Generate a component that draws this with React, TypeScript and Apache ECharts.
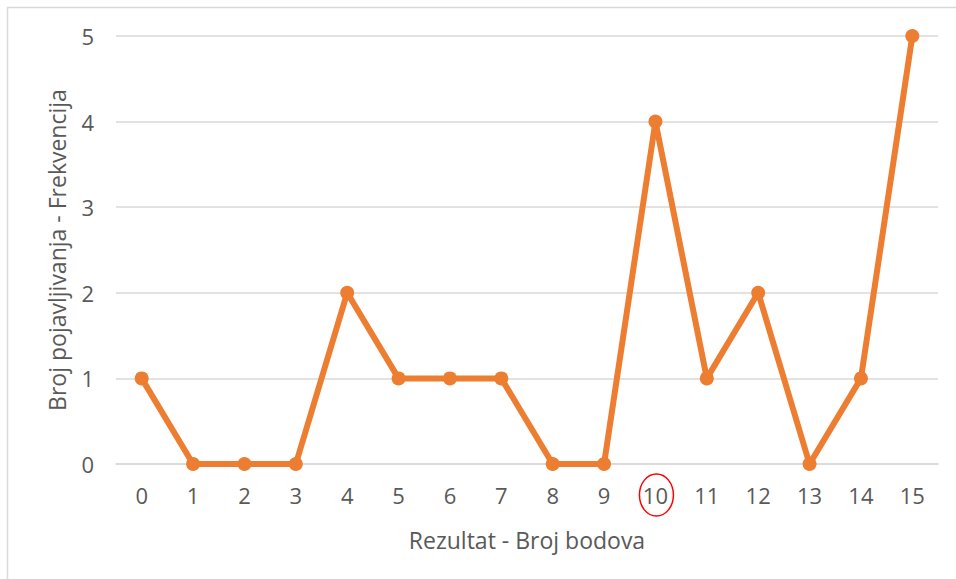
import React, { useEffect, useRef } from "react";
import * as echarts from "echarts";

const categories = ["0","1","2","3","4","5","6","7","8","9","10","11","12","13","14","15"];
const frequencies = [1,0,0,0,2,1,1,1,0,0,4,1,2,0,1,5];
const yTicks = [0,1,2,3,4,5];
const xTitle = "Rezultat - Broj bodova";
const yTitle = "Broj pojavljivanja - Frekvencija";
const highlightedCategory = "10";

export default function App() {
  const ref = useRef<HTMLDivElement>(null);
  useEffect(() => {
    if (!ref.current) return;
    const chart = echarts.init(ref.current, null, { renderer: "svg" });
    const font = "'Open Sans', 'Liberation Sans', sans-serif";
    const textColor = "#595959";
    const border = {
      type: "rect",
      shape: { x: 7.5, y: 7.5, width: 2000, height: 2000 },
      style: { fill: "none", stroke: "#D9D9D9", lineWidth: 1.5 },
      silent: true,
    };
    chart.setOption({
      animation: false,
      grid: { left: 116, right: 18, top: 36, bottom: 115 },
      xAxis: {
        type: "category",
        data: categories,
        boundaryGap: true,
        axisLine: { show: true, lineStyle: { color: "#D9D9D9", width: 1.5 } },
        axisTick: { show: false },
        axisLabel: { color: textColor, fontSize: 22, fontFamily: font, margin: 20 },
        name: xTitle,
        nameLocation: "middle",
        nameGap: 64,
        nameTextStyle: { color: textColor, fontSize: 23, fontFamily: font },
      },
      yAxis: {
        type: "value",
        min: yTicks[0],
        max: yTicks[yTicks.length - 1],
        interval: 1,
        axisLine: { show: false },
        axisTick: { show: false },
        splitLine: { lineStyle: { color: "#D9D9D9", width: 1.5 } },
        axisLabel: { color: textColor, fontSize: 22, fontFamily: font, margin: 22 },
        name: yTitle,
        nameLocation: "middle",
        nameGap: 48,
        nameTextStyle: { color: textColor, fontSize: 23, fontFamily: font },
      },
      series: [
        {
          type: "line",
          data: frequencies,
          symbol: "circle",
          symbolSize: 14,
          lineStyle: { color: "#ED7D31", width: 6 },
          itemStyle: { color: "#ED7D31" },
        },
      ],
      graphic: [border],
    });
    const idx = categories.indexOf(highlightedCategory);
    const px = chart.convertToPixel({ xAxisIndex: 0 }, idx) as number;
    const py = chart.convertToPixel({ yAxisIndex: 0 }, 0) as number;
    chart.setOption({
      graphic: [
        border,
        {
          type: "ellipse",
          shape: { cx: px + 1, cy: py + 31, rx: 17, ry: 21 },
          style: { fill: "none", stroke: "#FF0000", lineWidth: 1.5 },
          silent: true,
        },
      ],
    });
    return () => chart.dispose();
  }, []);
  return (
    <div
      ref={ref}
      style={{ position: "fixed", left: 0, top: 0, width: 956, height: 579, background: "#fff" }}
    />
  );
}
